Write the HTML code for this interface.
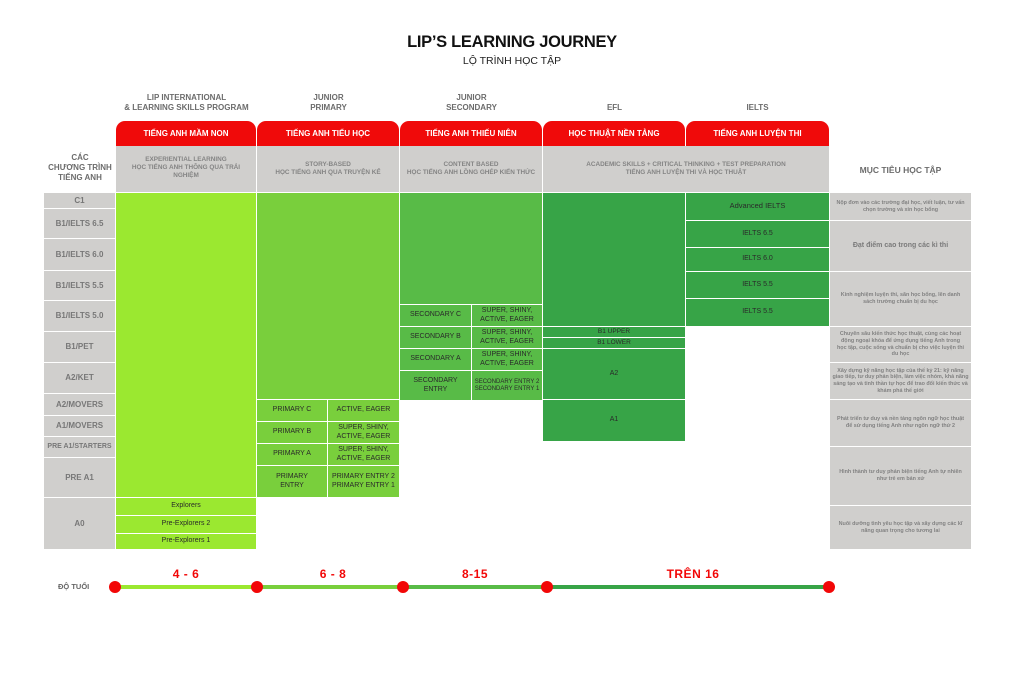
<!DOCTYPE html>
<html><head><meta charset="utf-8">
<style>
*{margin:0;padding:0;box-sizing:border-box}
body{width:1024px;height:684px;background:#fff;position:relative;overflow:hidden;font-family:"Liberation Sans","DejaVu Sans",sans-serif}
.a{position:absolute}
.c{position:absolute;display:flex;align-items:center;justify-content:center;text-align:center;line-height:1.15}
.g{background:#d0cfcd}
.l{background:#d0cfcd;color:#777;font-weight:bold;font-size:8px}
.c1{background:#9be830}
.c2{background:#79cf3c}
.c3{background:#58bb47}
.c4{background:#37a447}
.t{color:#2a2a2a;font-size:7px}
.tab{position:absolute;top:121px;height:25px;background:#f00a0a;border-radius:9px 9px 0 0;color:#fff;font-weight:bold;font-size:8px;display:flex;align-items:center;justify-content:center}
.hd{position:absolute;color:#6c6c6c;font-weight:bold;font-size:8px;text-align:center;line-height:10px}
.gb{color:#848484;font-weight:bold;font-size:6.4px;line-height:8px}
.r{background:#d0cfcd;color:#828282;font-weight:bold;font-size:5.4px;line-height:6.7px;padding:0 6px}
.dot{position:absolute;width:12px;height:12px;border-radius:50%;background:#f20707;top:581px}
.seg{position:absolute;height:4px;top:585px}
.age{position:absolute;top:567px;color:#f20707;font-weight:bold;font-size:12px;text-align:center;letter-spacing:0.5px}
</style></head><body>

<div class="a" style="left:0;width:1024px;top:33px;text-align:center;font-weight:bold;font-size:16.5px;color:#111;letter-spacing:-0.3px">LIP’S LEARNING JOURNEY</div>
<div class="a" style="left:0;width:1024px;top:55px;text-align:center;font-size:10.5px;color:#222">LỘ TRÌNH HỌC TẬP</div>

<div class="hd" style="left:116px;width:141px;top:93px">LIP INTERNATIONAL<br>&amp; LEARNING SKILLS PROGRAM</div>
<div class="hd" style="left:257px;width:143px;top:93px">JUNIOR<br>PRIMARY</div>
<div class="hd" style="left:400px;width:143px;top:93px">JUNIOR<br>SECONDARY</div>
<div class="hd" style="left:543px;width:143px;top:103px">EFL</div>
<div class="hd" style="left:686px;width:143px;top:103px">IELTS</div>

<div class="tab" style="left:116px;width:140px">TIẾNG ANH MẦM NON</div>
<div class="tab" style="left:257px;width:142px">TIẾNG ANH TIỂU HỌC</div>
<div class="tab" style="left:400px;width:142px">TIẾNG ANH THIẾU NIÊN</div>
<div class="tab" style="left:543px;width:142px">HỌC THUẬT NỀN TẢNG</div>
<div class="tab" style="left:686px;width:143px">TIẾNG ANH LUYỆN THI</div>

<div class="c g gb" style="left:116px;top:146px;width:140px;height:46px;padding-bottom:2px">EXPERIENTIAL LEARNING<br>HỌC TIẾNG ANH THÔNG QUA TRẢI<br>NGHIỆM</div>
<div class="c g gb" style="left:257px;top:146px;width:142px;height:46px">STORY-BASED<br>HỌC TIẾNG ANH QUA TRUYỆN KỂ</div>
<div class="c g gb" style="left:400px;top:146px;width:142px;height:46px">CONTENT BASED<br>HỌC TIẾNG ANH LỒNG GHÉP KIẾN THỨC</div>
<div class="c g gb" style="left:543px;top:146px;width:286px;height:46px">ACADEMIC SKILLS + CRITICAL THINKING + TEST PREPARATION<br>TIẾNG ANH LUYỆN THI VÀ HỌC THUẬT</div>

<div class="hd" style="left:44px;width:72px;top:153px;font-size:8px">CÁC<br>CHƯƠNG TRÌNH<br>TIẾNG ANH</div>
<div class="hd" style="left:830px;width:141px;top:165px;font-size:8.5px">MỤC TIÊU HỌC TẬP</div>

<!-- left labels -->
<div class="c l" style="left:44px;width:71px;top:193px;height:15px">C1</div>
<div class="c l" style="left:44px;width:71px;top:209px;height:29px">B1/IELTS 6.5</div>
<div class="c l" style="left:44px;width:71px;top:239px;height:31px">B1/IELTS 6.0</div>
<div class="c l" style="left:44px;width:71px;top:271px;height:29px">B1/IELTS 5.5</div>
<div class="c l" style="left:44px;width:71px;top:301px;height:30px">B1/IELTS 5.0</div>
<div class="c l" style="left:44px;width:71px;top:332px;height:30px">B1/PET</div>
<div class="c l" style="left:44px;width:71px;top:363px;height:30px">A2/KET</div>
<div class="c l" style="left:44px;width:71px;top:394px;height:21px">A2/MOVERS</div>
<div class="c l" style="left:44px;width:71px;top:416px;height:20px">A1/MOVERS</div>
<div class="c l" style="left:44px;width:71px;top:437px;height:20px;font-size:7px">PRE A1/STARTERS</div>
<div class="c l" style="left:44px;width:71px;top:458px;height:39px">PRE A1</div>
<div class="c l" style="left:44px;width:71px;top:498px;height:51px">A0</div>

<!-- col1 -->
<div class="c c1" style="left:116px;width:140px;top:193px;height:304px"></div>
<div class="c c1 t" style="left:116px;width:140px;top:498px;height:17px">Explorers</div>
<div class="c c1 t" style="left:116px;width:140px;top:516px;height:17px">Pre-Explorers 2</div>
<div class="c c1 t" style="left:116px;width:140px;top:534px;height:15px">Pre-Explorers 1</div>

<!-- col2 -->
<div class="c c2" style="left:257px;width:142px;top:193px;height:206px"></div>
<div class="c c2 t" style="left:257px;width:70px;top:400px;height:21px">PRIMARY C</div>
<div class="c c2 t" style="left:328px;width:71px;top:400px;height:21px">ACTIVE, EAGER</div>
<div class="c c2 t" style="left:257px;width:70px;top:422px;height:21px">PRIMARY B</div>
<div class="c c2 t" style="left:328px;width:71px;top:422px;height:21px">SUPER, SHINY,<br>ACTIVE, EAGER</div>
<div class="c c2 t" style="left:257px;width:70px;top:444px;height:21px">PRIMARY A</div>
<div class="c c2 t" style="left:328px;width:71px;top:444px;height:21px">SUPER, SHINY,<br>ACTIVE, EAGER</div>
<div class="c c2 t" style="left:257px;width:70px;top:466px;height:31px">PRIMARY<br>ENTRY</div>
<div class="c c2 t" style="left:328px;width:71px;top:466px;height:31px">PRIMARY ENTRY 2<br>PRIMARY ENTRY 1</div>

<!-- col3 -->
<div class="c c3" style="left:400px;width:142px;top:193px;height:111px"></div>
<div class="c c3 t" style="left:400px;width:71px;top:305px;height:21px">SECONDARY C</div>
<div class="c c3 t" style="left:472px;width:70px;top:305px;height:21px">SUPER, SHINY,<br>ACTIVE, EAGER</div>
<div class="c c3 t" style="left:400px;width:71px;top:327px;height:21px">SECONDARY B</div>
<div class="c c3 t" style="left:472px;width:70px;top:327px;height:21px">SUPER, SHINY,<br>ACTIVE, EAGER</div>
<div class="c c3 t" style="left:400px;width:71px;top:349px;height:21px">SECONDARY A</div>
<div class="c c3 t" style="left:472px;width:70px;top:349px;height:21px">SUPER, SHINY,<br>ACTIVE, EAGER</div>
<div class="c c3 t" style="left:400px;width:71px;top:371px;height:29px">SECONDARY<br>ENTRY</div>
<div class="c c3 t" style="left:472px;width:70px;top:371px;height:29px;font-size:6px">SECONDARY ENTRY 2<br>SECONDARY ENTRY 1</div>

<!-- col4 -->
<div class="c c4" style="left:543px;width:142px;top:193px;height:133px"></div>
<div class="c c4 t" style="left:543px;width:142px;top:327px;height:10px;font-size:6.5px">B1 UPPER</div>
<div class="c c4 t" style="left:543px;width:142px;top:338px;height:10px;font-size:6.5px">B1 LOWER</div>
<div class="c c4 t" style="left:543px;width:142px;top:349px;height:50px">A2</div>
<div class="c c4 t" style="left:543px;width:142px;top:400px;height:41px">A1</div>

<!-- col5 -->
<div class="c c4 t" style="left:686px;width:143px;top:193px;height:27px;font-size:7.5px">Advanced IELTS</div>
<div class="c c4 t" style="left:686px;width:143px;top:221px;height:26px">IELTS 6.5</div>
<div class="c c4 t" style="left:686px;width:143px;top:248px;height:23px">IELTS 6.0</div>
<div class="c c4 t" style="left:686px;width:143px;top:272px;height:26px">IELTS 5.5</div>
<div class="c c4 t" style="left:686px;width:143px;top:299px;height:27px">IELTS 5.5</div>

<!-- right goals -->
<div class="c r" style="left:830px;width:141px;top:193px;height:27px">Nộp đơn vào các trường đại học, viết luận, tư vấn chọn trường và xin học bổng</div>
<div class="c r" style="left:830px;width:141px;top:221px;height:50px;font-size:7px;color:#7a7a7a">Đạt điểm cao trong các kì thi</div>
<div class="c r" style="left:830px;width:141px;top:272px;height:54px">Kinh nghiệm luyện thi, săn học bổng, lên danh sách trường chuẩn bị du học</div>
<div class="c r" style="left:830px;width:141px;top:327px;height:35px">Chuyên sâu kiến thức học thuật, cùng các hoạt động ngoại khóa để ứng dụng tiếng Anh trong học tập, cuộc sống và chuẩn bị cho việc luyện thi du học</div>
<div class="c r" style="left:830px;width:141px;top:363px;height:36px;padding:0 2px">Xây dựng kỹ năng học tập của thế kỷ 21: kỹ năng giao tiếp, tư duy phản biện, làm việc nhóm, khả năng sáng tạo và tinh thần tự học để trao đổi kiến thức và khám phá thế giới</div>
<div class="c r" style="left:830px;width:141px;top:400px;height:46px">Phát triển tư duy và nền tảng ngôn ngữ học thuật để sử dụng tiếng Anh như ngôn ngữ thứ 2</div>
<div class="c r" style="left:830px;width:141px;top:447px;height:58px">Hình thành tư duy phản biện tiếng Anh tự nhiên như trẻ em bản xứ</div>
<div class="c r" style="left:830px;width:141px;top:506px;height:43px">Nuôi dưỡng tình yêu học tập và xây dựng các kĩ năng quan trọng cho tương lai</div>

<!-- age axis -->
<div class="a" style="left:58px;top:582px;font-size:7.5px;font-weight:bold;color:#666">ĐỘ TUỔI</div>
<div class="seg" style="left:115px;width:142px;background:#9be830"></div>
<div class="seg" style="left:257px;width:146px;background:#79cf3c"></div>
<div class="seg" style="left:403px;width:144px;background:#58bb47"></div>
<div class="seg" style="left:547px;width:282px;background:#37a447"></div>
<div class="dot" style="left:109px"></div>
<div class="dot" style="left:251px"></div>
<div class="dot" style="left:397px"></div>
<div class="dot" style="left:541px"></div>
<div class="dot" style="left:823px"></div>
<div class="age" style="left:146px;width:80px">4 - 6</div>
<div class="age" style="left:293px;width:80px">6 - 8</div>
<div class="age" style="left:435px;width:80px">8-15</div>
<div class="age" style="left:643px;width:100px">TRÊN 16</div>

</body></html>
